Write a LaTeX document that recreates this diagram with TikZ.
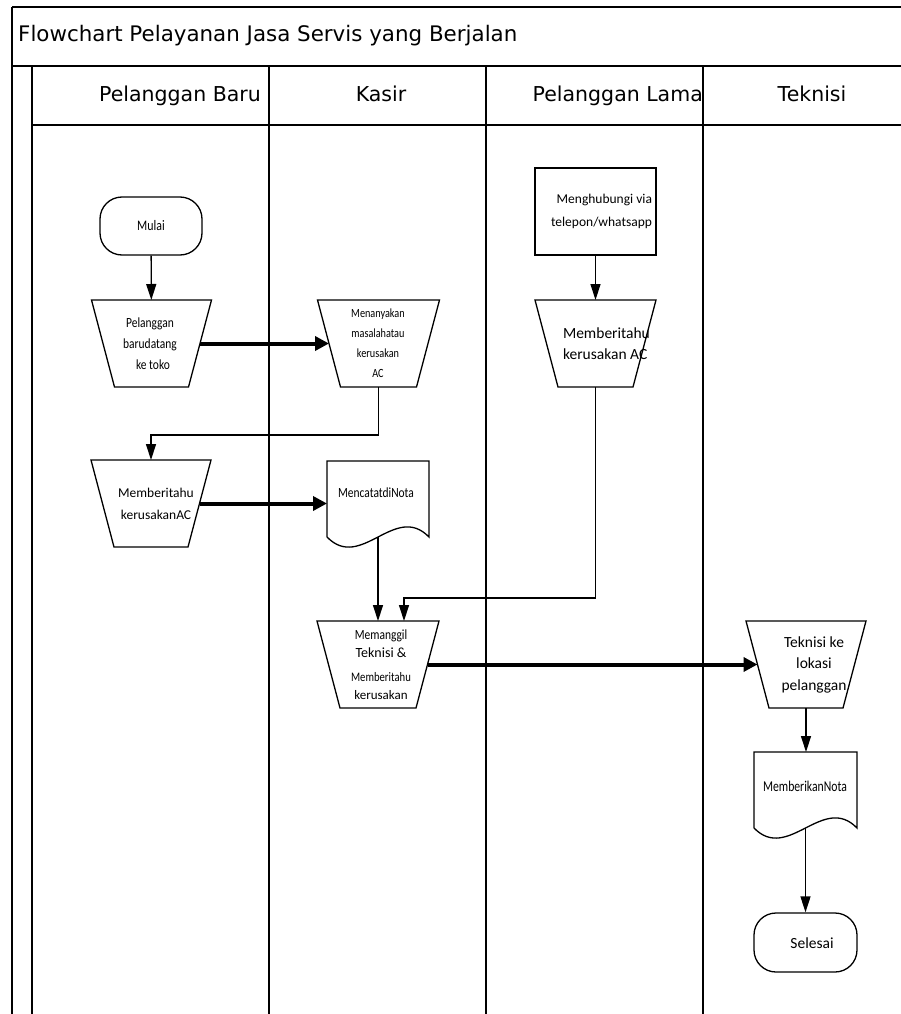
\documentclass[tikz,border=0pt]{standalone}
\usepackage{fontspec}
\usepackage{graphicx}
\setmainfont{Carlito}
\newfontfamily\hdrfont{DejaVu Sans}
\newfontfamily\cfont[FakeStretch=0.82]{Carlito}
\newfontfamily\cfontd[FakeStretch=0.78]{Carlito}
\usetikzlibrary{arrows.meta,calc}

% trapezoid (wide side on top) around an invisible box node
\newcommand\trapshape[1]{%
  \draw[outline] (#1.north west) -- (#1.north east)
    -- ($(#1.south east)+(-23,0)$) -- ($(#1.south west)+(23,0)$) -- cycle;}
% document symbol with a wavy lower edge
\newcommand\docshape[1]{%
  \draw[outline] (#1.south west) -- (#1.north west) -- (#1.north east)
    -- (#1.south east) .. controls ($(#1.south east)+(-34,-35)$)
    and ($(#1.south west)+(34,35)$) .. (#1.south west);}

\begin{document}
\begin{tikzpicture}[x=1pt,y=-1pt,
  frame/.style={line width=2pt},
  box/.style={draw=none,inner sep=0,outer sep=0},
  outline/.style={line width=1.3pt,line join=miter},
  terminal/.style={draw,line width=1.3pt,rounded corners=22pt,inner sep=0,
    minimum width=102,minimum height=58},
  plainbox/.style={draw,line width=1.2pt,inner sep=0},
  txt/.style={inner sep=0,outer sep=0,align=center},
  thinarr/.style={line width=1.3pt,-{Triangle[length=16pt,width=10pt]}},
  thickarr/.style={line width=4pt,-{Triangle[length=14pt,width=14pt]}},
  hdr/.style={inner sep=0,font=\hdrfont\fontsize{20.5}{24}\selectfont},
  ttl/.style={inner sep=0,font=\hdrfont\fontsize{21.4}{26}\selectfont}
]
\useasboundingbox (0,0) rectangle (901,1014);

% ---- pool frame and lanes ----
\draw[frame] (12,7) -- (901,7);
\draw[frame] (12,66) -- (901,66);
\draw[frame] (32,125) -- (901,125);
\draw[line width=1.6pt] (12,7) -- (12,1014);
\draw[frame] (32,66) -- (32,1014);
\draw[frame] (269,66) -- (269,1014);
\draw[frame] (486,66) -- (486,1014);
\draw[frame] (703,66) -- (703,1014);

% ---- title and lane headers ----
\node[ttl,anchor=base west] (title) at (18,42) {Flowchart Pelayanan Jasa Servis yang Berjalan};
\node[hdr,anchor=base east] (hbaru) at (261,102) {Pelanggan Baru};
\node[hdr,anchor=base] (hkasir) at (381,102) {Kasir};
\node[hdr,anchor=base east] (hlama) at (703,102) {Pelanggan Lama};
\node[hdr,anchor=base] (htek) at (812,102) {Teknisi};

% ---- shapes ----
\node[terminal] (mulai) at (151,226) {};
\node[box,minimum width=120,minimum height=87] (t1) at (151.5,343.5) {};
\node[box,minimum width=122,minimum height=87] (k1) at (378.5,343.5) {};
\node[box,minimum width=120,minimum height=87] (t2) at (151,503.5) {};
\node[box,minimum width=102,minimum height=76] (d1) at (378,499) {};
\node[box,minimum width=122,minimum height=87] (m) at (378,664.5) {};
\node[plainbox,minimum width=121,minimum height=87] (r) at (595.5,211.5) {};
\node[box,minimum width=121,minimum height=87] (l2) at (595.5,343.5) {};
\node[box,minimum width=120,minimum height=87] (tk) at (806,664.5) {};
\node[box,minimum width=103,minimum height=76] (d2) at (805.5,790) {};
\node[terminal,minimum width=103,minimum height=59] (selesai) at (805.5,942.5) {};

\trapshape{t1}
\trapshape{k1}
\trapshape{t2}
\trapshape{m}
\trapshape{l2}
\trapshape{tk}
\docshape{d1}
\docshape{d2}

% ---- texts ----
\node[txt,font=\cfont\fontsize{14.5}{17}\selectfont] (mulaitxt) at (151,226) {Mulai};
\node[txt,font=\cfont\fontsize{14}{21}\selectfont] (t1txt) at (150,344)
  {Pelanggan\\barudatang\hspace*{10pt}\\\hspace*{6pt}ke toko};
\node[txt,font=\cfont\fontsize{12.5}{20}\selectfont] (k1txt) at (378,343)
  {Menanyakan\\masalahatau\\kerusakan\\AC};
\node[txt,font=\fontsize{13.5}{22}\selectfont] (t2txt) at (156,504)
  {Memberitahu\\kerusakanAC};
\node[txt,font=\cfont\fontsize{14}{17}\selectfont] (d1txt) at (376,493) {MencatatdiNota};
\node[txt,align=right,anchor=east,font=\fontsize{13.5}{23}\selectfont] (rtxt) at (652,211.5)
  {Menghubungi via\\telepon/whatsapp};
\node[txt,align=left,anchor=west,font=\fontsize{15.5}{21}\selectfont] (l2txt) at (563,343.5)
  {Memberitahu\\kerusakan AC};
\node[txt,font=\fontsize{13}{18}\selectfont] (mtxt) at (381,665)
  {{\cfont\fontsize{14}{18}\selectfont Memanggil}\\
   {\fontsize{14}{18}\selectfont Teknisi \&}\\[6pt]
   {\cfont\fontsize{13}{18}\selectfont Memberitahu}\\
   kerusakan};
\node[txt,font=\fontsize{15.5}{21.5}\selectfont] (tktxt) at (814,664.5)
  {Teknisi ke\\lokasi\hspace*{6pt}\\pelanggan};
\node[txt,font=\cfontd\fontsize{15}{18}\selectfont] (d2txt) at (805,786) {MemberikanNota};
\node[txt,font=\fontsize{15.5}{18}\selectfont] (seltxt) at (812,943) {Selesai};

% ---- connectors ----
\coordinate (j1) at (378.5,435);
\coordinate (j2) at (595.5,598);
\draw[thinarr] (mulai) -- (t1);
\draw[thickarr] ($(t1.east)+(-11.5,0)$) -- ($(k1.west)+(11.5,0)$);
\draw[thinarr] (k1) -- (j1) -| (t2);
\draw[thickarr] ($(t2.east)+(-11.5,0)$) -- (t2.east -| d1.west);
\draw[thinarr] (d1.south) -- (m);
\draw[thinarr] (r) -- (l2);
\draw[thinarr] (l2) -- (j2) -| ($(m.north)+(26,0)$);
\draw[thickarr] ($(m.east)+(-11.5,0)$) -- ($(tk.west)+(11.5,0)$);
\draw[thinarr] (tk.south) -- (tk.south |- d2.north);
\draw[thinarr] (d2.south) -- (selesai);
\end{tikzpicture}
\end{document}
